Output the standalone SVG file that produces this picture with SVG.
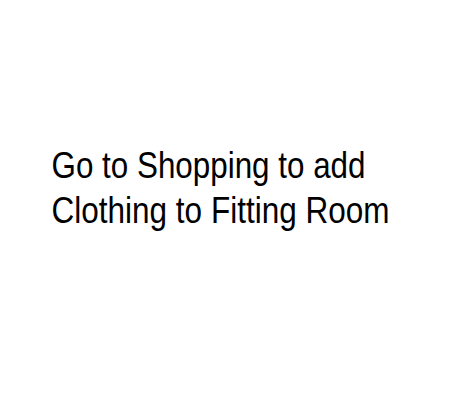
<svg xmlns="http://www.w3.org/2000/svg" width="458" height="409" viewBox="0 0 458 409">
<style>
.t{font-family:"Liberation Sans",Arial,sans-serif;font-size:36px;fill:#000}
</style>
<rect width="458" height="409" fill="#fff"/>
<g id="label">
<text class="t" x="51.5" y="178" textLength="314" lengthAdjust="spacingAndGlyphs">Go to Shopping to add</text>
<text class="t" x="51.5" y="223" textLength="338" lengthAdjust="spacingAndGlyphs">Clothing to Fitting Room</text>
</g>
</svg>
